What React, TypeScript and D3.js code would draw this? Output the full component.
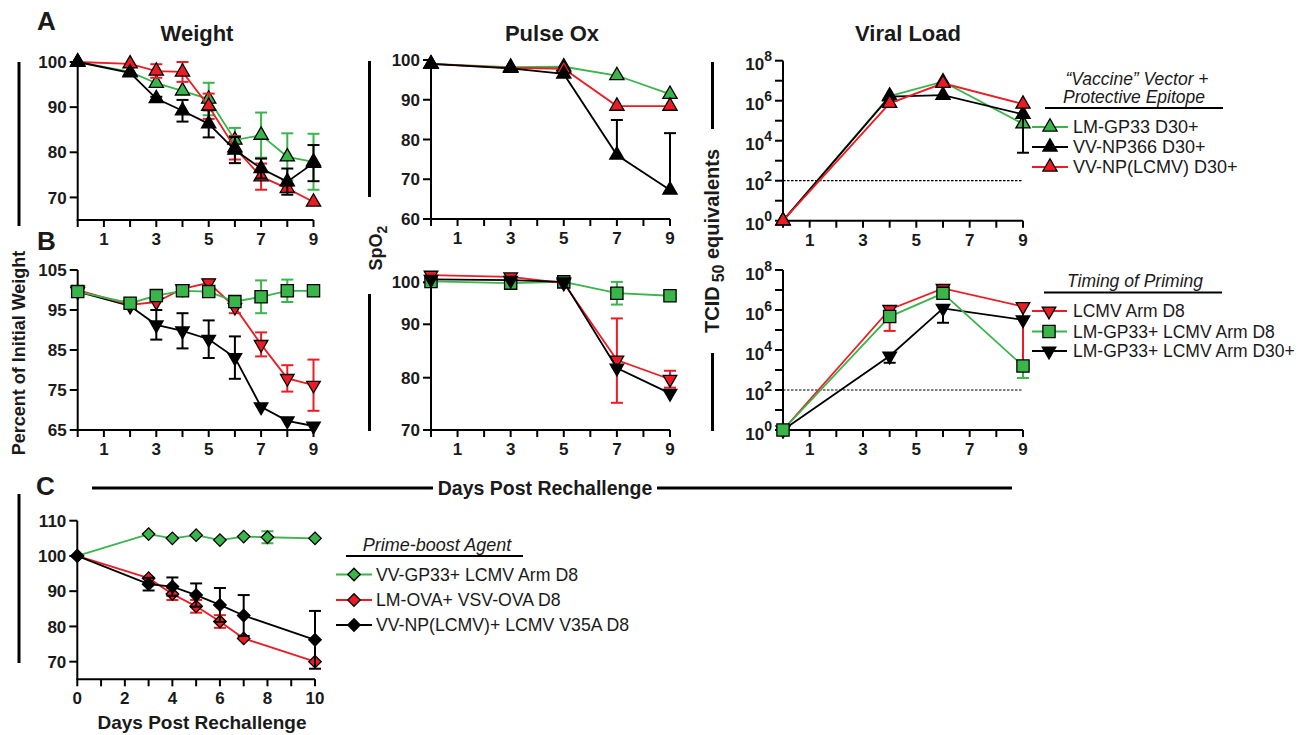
import * as d3 from 'd3';
import type { ReactNode } from 'react';

const FONT = "'Liberation Sans', Arial, Helvetica, sans-serif";
const GREEN = '#39b54a';
const RED = '#ed1c24';
const BLACK = '#000000';

// ---------- A: "vaccine" vector + protective epitope ----------
const daysWeightA = [0, 2, 3, 4, 5, 6, 7, 8, 9];
const weightLmGp33 = [100, 97.8, 95.3, 93.6, 91.8, 82.7, 83.8, 79.0, 77.9];
const weightLmGp33Sem = [0, 0, 0, 0, 3.6, 2.7, 5.0, 5.2, 6.2];
const weightVvNp366 = [100, 97.6, 91.9, 89.2, 86.3, 80.5, 76.4, 73.5, 77.6];
const weightVvNp366Sem = [0, 0, 0.4, 2.4, 3.0, 2.9, 2.2, 2.9, 4.0];
const weightVvNpLcmv = [100, 99.6, 98.0, 97.8, 90.2, 81.0, 74.6, 72.0, 69.0];
const weightVvNpLcmvSem = [0, 0, 1.5, 2.2, 2.8, 2.6, 2.9, 0.5, 0];

const daysPulse = [0, 3, 5, 7, 9];
const pulseLmGp33 = [99, 98.2, 98.3, 96.1, 91.4];
const pulseVvNp366 = [99, 97.9, 96.5, 76.1, 67.3];
const pulseVvNp366Up = [0, 0, 0, 8.8, 14.3];
const pulseVvNpLcmv = [99, 98.0, 97.8, 88.4, 88.4];

const daysViral = [0, 4, 6, 9];
const viralLmGp33 = [1, 1.7e6, 8.9e6, 7e4];
const viralVvNp366 = [1, 1.6e6, 1.9e6, 2.1e5];
const viralVvNp366Lo = [null, null, null, 2.5e3];
const viralVvNpLcmv = [1, 7.4e5, 7.4e6, 6.8e5];
const viralLod = 100;

// ---------- B: timing of priming ----------
const weightLcmvArm = [100, 96.3, 97.0, 100.3, 101.8, 95.7, 86.4, 77.9, 76.2];
const weightLcmvArmSem = [0, 0.8, 0, 0.8, 0.8, 1.5, 3.0, 3.3, 6.4];
const weightGp33Arm = [99.6, 96.7, 98.6, 99.8, 99.6, 97.1, 98.3, 99.8, 99.8];
const weightGp33ArmSem = [0, 0, 0, 0, 0, 0, 4.1, 2.8, 0];
const weightGp33ArmD30 = [99.6, 96.0, 91.3, 89.8, 87.7, 83.1, 70.8, 67.3, 66.0];
const weightGp33ArmD30Sem = [0, 0, 3.7, 4.4, 4.7, 5.3, 0, 0, 0];

const pulseLcmvArm = [101.7, 101.3, 99.8, 83.3, 79.7];
const pulseLcmvArmSem = [0, 0, 0, 8.1, 1.6];
const pulseGp33Arm = [100.2, 99.8, 100.1, 97.4, 96.8];
const pulseGp33ArmSem = [0, 0, 0, 2.7, 0];
const pulseGp33ArmD30 = [100.7, 100.5, 100.1, 81.8, 77.0];

const viralLcmvArm = [1, 1.07e6, 1.2e7, 1.5e6];
const viralLcmvArmLo = [null, 9e4, null, 1e3];
const viralGp33Arm = [1, 4.7e5, 6.8e6, 1.6e3];
const viralGp33ArmLo = [null, null, null, 4e2];
const viralGp33ArmD30 = [1, 5e3, 1.2e6, 3.2e5];
const viralGp33ArmD30Lo = [null, 2.3e3, 2.3e5, null];

// ---------- C: prime-boost agent ----------
const daysC = [0, 3, 4, 5, 6, 7, 8, 10];
const weightVvGp33Boost = [100, 106.2, 105.0, 105.9, 104.5, 105.5, 105.3, 105.0];
const weightVvGp33BoostSem = [0, 0, 0, 0, 0, 0, 1.7, 0];
const weightLmOvaBoost = [100, 93.7, 89.2, 85.7, 81.4, 76.6, null, 70.0];
const weightLmOvaBoostSem = [0, 0, 1.7, 1.8, 1.8, 0, 0, 0];
const weightVvNpBoost = [100, 92.0, 91.3, 88.9, 86.1, 83.1, null, 76.2];
const weightVvNpBoostSem = [0, 1.8, 2.6, 3.3, 4.8, 5.8, 0, 8.2];

type Shape = 'up' | 'down' | 'square' | 'diamond';
type Val = number | null;
interface Series {
  color: string;
  shape: Shape;
  days: number[];
  values: Val[];
  lo: Val[];
  hi: Val[];
}

const withSem = (values: Val[], sem: number[], upOnly = false) => ({
  values,
  lo: values.map((v, i) => (v != null && sem[i] && !upOnly ? v - sem[i] : null)),
  hi: values.map((v, i) => (v != null && sem[i] ? v + sem[i] : null)),
});
const none = (values: Val[]) => ({ values, lo: values.map(() => null), hi: values.map(() => null) });
const lowOnly = (values: Val[], lo: Val[]) => ({ values, lo, hi: lo.map(() => null) });

const mk = (color: string, shape: Shape, days: number[], d: { values: Val[]; lo: Val[]; hi: Val[] }): Series => ({
  color, shape, days, ...d,
});

const seriesWeightA = [
  mk(GREEN, 'up', daysWeightA, withSem(weightLmGp33, weightLmGp33Sem)),
  mk(RED, 'up', daysWeightA, withSem(weightVvNpLcmv, weightVvNpLcmvSem)),
  mk(BLACK, 'up', daysWeightA, withSem(weightVvNp366, weightVvNp366Sem)),
];
const seriesPulseA = [
  mk(GREEN, 'up', daysPulse, none(pulseLmGp33)),
  mk(RED, 'up', daysPulse, none(pulseVvNpLcmv)),
  mk(BLACK, 'up', daysPulse, withSem(pulseVvNp366, pulseVvNp366Up, true)),
];
const seriesViralA = [
  mk(GREEN, 'up', daysViral, none(viralLmGp33)),
  mk(BLACK, 'up', daysViral, lowOnly(viralVvNp366, viralVvNp366Lo)),
  mk(RED, 'up', daysViral, none(viralVvNpLcmv)),
];
const seriesWeightB = [
  mk(BLACK, 'down', daysWeightA, withSem(weightGp33ArmD30, weightGp33ArmD30Sem)),
  mk(RED, 'down', daysWeightA, withSem(weightLcmvArm, weightLcmvArmSem)),
  mk(GREEN, 'square', daysWeightA, withSem(weightGp33Arm, weightGp33ArmSem)),
];
const seriesPulseB = [
  mk(GREEN, 'square', daysPulse, withSem(pulseGp33Arm, pulseGp33ArmSem)),
  mk(RED, 'down', daysPulse, withSem(pulseLcmvArm, pulseLcmvArmSem)),
  mk(BLACK, 'down', daysPulse, none(pulseGp33ArmD30)),
];
const seriesViralB = [
  mk(RED, 'down', daysViral, lowOnly(viralLcmvArm, viralLcmvArmLo)),
  mk(BLACK, 'down', daysViral, lowOnly(viralGp33ArmD30, viralGp33ArmD30Lo)),
  mk(GREEN, 'square', daysViral, lowOnly(viralGp33Arm, viralGp33ArmLo)),
];
const seriesC = [
  mk(GREEN, 'diamond', daysC, withSem(weightVvGp33Boost, weightVvGp33BoostSem)),
  mk(RED, 'diamond', daysC, withSem(weightLmOvaBoost, weightLmOvaBoostSem)),
  mk(BLACK, 'diamond', daysC, withSem(weightVvNpBoost, weightVvNpBoostSem)),
];

const legendA = ['LM-GP33 D30+', 'VV-NP366 D30+', 'VV-NP(LCMV) D30+'];
const legendB = ['LCMV Arm D8', 'LM-GP33+ LCMV Arm D8', 'LM-GP33+ LCMV Arm D30+'];
const legendC = ['VV-GP33+ LCMV Arm D8', 'LM-OVA+ VSV-OVA D8', 'VV-NP(LCMV)+ LCMV V35A D8'];

// ---------- scales ----------
const xWeight = d3.scaleLinear().domain([0, 9]).range([77.7, 313.5]);
const yWeightA = d3.scaleLinear().domain([65, 100]).range([220, 62]);
const xPulse = d3.scaleLinear().domain([0, 9]).range([431, 670]);
const yPulseA = d3.scaleLinear().domain([60, 100]).range([219, 60]);
const xViral = d3.scaleLinear().domain([0, 9]).range([783, 1023]);
const yViralA = d3.scaleLog().domain([1, 1e8]).range([220.7, 60.7]);
const yWeightB = d3.scaleLinear().domain([65, 105]).range([430, 270]);
const yPulseB = d3.scaleLinear().domain([70, 80, 90, 100]).range([430, 377.7, 324.3, 282.3]);
const yViralB = d3.scaleLog().domain([1, 1e8]).range([430, 270]);
const xC = d3.scaleLinear().domain([0, 10]).range([77.3, 315]);
const yC = d3.scaleLinear().domain([65, 110]).range([679.3, 520.7]);

const SIZE: Record<Shape, number> = { up: 88, down: 80, square: 150, diamond: 78 };
const ROT: Record<Shape, number> = { up: 0, down: 180, square: 0, diamond: 45 };

function Marker({ shape, color, x, y }: { shape: Shape; color: string; x: number; y: number }) {
  const type = shape === 'square' || shape === 'diamond' ? d3.symbolSquare : d3.symbolTriangle;
  const d = d3.symbol(type, SIZE[shape])() || '';
  return (
    <path d={d} transform={`translate(${x},${y}) rotate(${ROT[shape]})`}
      fill={color} stroke="#000" strokeWidth={1.3} strokeLinejoin="miter" />
  );
}

function SeriesMarks({ s, x, y }: { s: Series; x: (v: number) => number; y: (v: number) => number }) {
  const pts = s.days.map((d, i) => ({ d, v: s.values[i], lo: s.lo[i], hi: s.hi[i] })).filter(p => p.v != null);
  const line = d3.line<{ d: number; v: Val }>().x(p => x(p.d)).y(p => y(p.v as number));
  return (
    <g>
      <path d={line(pts) || ''} fill="none" stroke={s.color} strokeWidth={1.8} />
      {pts.map((p, i) => {
        if (p.lo == null && p.hi == null) return null;
        const cx = x(p.d);
        const y1 = y(p.lo ?? (p.v as number));
        const y2 = y(p.hi ?? (p.v as number));
        return (
          <g key={i} stroke={s.color} strokeWidth={2}>
            <line x1={cx} x2={cx} y1={y1} y2={y2} />
            {p.lo != null && <line x1={cx - 6} x2={cx + 6} y1={y1} y2={y1} />}
            {p.hi != null && <line x1={cx - 6} x2={cx + 6} y1={y2} y2={y2} />}
          </g>
        );
      })}
      {pts.map((p, i) => (
        <Marker key={i} shape={s.shape} color={s.color} x={x(p.d)} y={y(p.v as number)} />
      ))}
    </g>
  );
}

interface PanelProps {
  x: d3.ScaleLinear<number, number>;
  y: (v: number) => number;
  yTop: number;
  yBottom: number;
  yTicks: number[];
  yLabel: (v: number, px: number, py: number) => ReactNode;
  xLabelOdd: boolean;
  series: Series[];
  lod?: number;
}

function Panel({ x, y, yTop, yBottom, yTicks, yLabel, xLabelOdd, series, lod }: PanelProps) {
  const [d0, d1] = x.domain();
  const x0 = x(d0);
  const base = y(yBottom);
  const xTicks = d3.range(d0, d1 + 1);
  return (
    <g>
      {lod != null && (
        <line x1={x0} x2={x(d1)} y1={y(lod)} y2={y(lod)} stroke="#000" strokeWidth={1.2} strokeDasharray="2.5,1.5" />
      )}
      <g stroke="#000" strokeWidth={2}>
        <line x1={x0} x2={x0} y1={y(yTop)} y2={base} />
        <line x1={x0 - 1} x2={x(d1)} y1={base} y2={base} />
        {yTicks.map(t => <line key={t} x1={x0 - 8} x2={x0} y1={y(t)} y2={y(t)} />)}
        {xTicks.map(t => <line key={t} x1={x(t)} x2={x(t)} y1={base} y2={base + 7} />)}
      </g>
      <g fontWeight="bold" fontSize={17} fill="#1a1a1a">
        {yTicks.map(t => <g key={t}>{yLabel(t, x0 - 11, y(t))}</g>)}
        {xTicks.filter(t => (xLabelOdd ? t % 2 === 1 : t % 2 === 0)).map(t => (
          <text key={t} x={x(t)} y={base + 25} textAnchor="middle">{t}</text>
        ))}
      </g>
      {series.map((s, i) => <SeriesMarks key={i} s={s} x={x} y={y} />)}
    </g>
  );
}

const linLabel = (v: number, px: number, py: number) => (
  <text x={px} y={py} dy="0.36em" textAnchor="end">{v}</text>
);
const logLabel = (v: number, px: number, py: number) => {
  const e = Math.round(Math.log10(v));
  if (e % 2 !== 0) return null;
  return (
    <text x={px} y={py + 9.5} textAnchor="end">
      10<tspan dy={-9} fontSize={14}>{e}</tspan>
    </text>
  );
};

function Legend({ labels, colors, shapes, rowYs, lineX, markerX, textX, fontSize }: {
  labels: string[]; colors: string[]; shapes: Shape[]; rowYs: number[];
  lineX: [number, number]; markerX: number; textX: number; fontSize: number;
}) {
  return (
    <g>
      {labels.map((l, i) => (
        <g key={l}>
          <line x1={lineX[0]} x2={lineX[1]} y1={rowYs[i]} y2={rowYs[i]} stroke={colors[i]} strokeWidth={1.8} />
          <Marker shape={shapes[i]} color={colors[i]} x={markerX} y={rowYs[i]} />
          <text x={textX} y={rowYs[i]} dy="0.36em" fontSize={fontSize} fill="#1a1a1a">{l}</text>
        </g>
      ))}
    </g>
  );
}

const vTicks = d3.range(0, 9).map(e => Math.pow(10, e));

export default function App() {
  return (
    <svg width={1308} height={735} viewBox="0 0 1308 735" fontFamily={FONT}
      style={{ position: 'absolute', left: 0, top: 0, background: '#fff' }}>
      {/* panel letters and titles */}
      <g fontWeight="bold" fill="#1a1a1a">
        <text x={37} y={30} fontSize={26}>A</text>
        <text x={37} y={250} fontSize={26}>B</text>
        <text x={36} y={495} fontSize={26}>C</text>
        <text x={197} y={41} fontSize={22} textAnchor="middle">Weight</text>
        <text x={552} y={41} fontSize={22} textAnchor="middle">Pulse Ox</text>
        <text x={908} y={41} fontSize={22} textAnchor="middle">Viral Load</text>
      </g>

      {/* decorative vertical bars and the shared day rule */}
      <g stroke="#000" strokeWidth={3}>
        <line x1={19} x2={19} y1={62} y2={226} />
        <line x1={369.5} x2={369.5} y1={61} y2={197} />
        <line x1={712.5} x2={712.5} y1={62} y2={129} />
        <line x1={369.5} x2={369.5} y1={294} y2={431} />
        <line x1={712.5} x2={712.5} y1={353} y2={431} />
        <line x1={19} x2={19} y1={494} y2={663} />
        <line x1={92} x2={433} y1={488} y2={488} />
        <line x1={657} x2={1012} y1={488} y2={488} />
      </g>

      {/* shared axis titles */}
      <g fontWeight="bold" fill="#1a1a1a">
        <text x={545} y={495} fontSize={19.5} textAnchor="middle">Days Post Rechallenge</text>
        <text x={202} y={729} fontSize={19} textAnchor="middle">Days Post Rechallenge</text>
        <text transform="translate(25,353) rotate(-90)" fontSize={18} textAnchor="middle">Percent of Initial Weight</text>
        <text transform="translate(382,248) rotate(-90)" fontSize={18} textAnchor="middle">
          SpO<tspan dy={5} fontSize={14}>2</tspan>
        </text>
        <text transform="translate(719,241) rotate(-90)" fontSize={20} textAnchor="middle">
          TCID<tspan dx={4} dy={5} fontSize={16}>50</tspan><tspan dy={-5}> equivalents</tspan>
        </text>
      </g>

      {/* row A */}
      <Panel x={xWeight} y={yWeightA} yTop={100} yBottom={65} yTicks={[70, 80, 90, 100]}
        yLabel={linLabel} xLabelOdd series={seriesWeightA} />
      <Panel x={xPulse} y={yPulseA} yTop={100} yBottom={60} yTicks={[60, 70, 80, 90, 100]}
        yLabel={linLabel} xLabelOdd series={seriesPulseA} />
      <Panel x={xViral} y={yViralA} yTop={1e8} yBottom={1} yTicks={vTicks}
        yLabel={logLabel} xLabelOdd series={seriesViralA} lod={viralLod} />

      {/* row B */}
      <Panel x={xWeight} y={yWeightB} yTop={105} yBottom={65} yTicks={[65, 75, 85, 95, 105]}
        yLabel={linLabel} xLabelOdd series={seriesWeightB} />
      <Panel x={xPulse} y={yPulseB} yTop={100} yBottom={70} yTicks={[70, 80, 90, 100]}
        yLabel={linLabel} xLabelOdd series={seriesPulseB} />
      <Panel x={xViral} y={yViralB} yTop={1e8} yBottom={1} yTicks={vTicks}
        yLabel={logLabel} xLabelOdd series={seriesViralB} lod={viralLod} />

      {/* row C */}
      <Panel x={xC} y={yC} yTop={110} yBottom={65} yTicks={[70, 80, 90, 100, 110]}
        yLabel={linLabel} xLabelOdd={false} series={seriesC} />

      {/* legends */}
      <g fontStyle="italic" fontSize={17.5} fill="#1a1a1a" textAnchor="middle">
        <text x={1137} y={85}>“Vaccine” Vector +</text>
        <text x={1134} y={103}>Protective Epitope</text>
        <text x={1135} y={287}>Timing of Priming</text>
        <text x={437} y={551} fontSize={18}>Prime-boost Agent</text>
      </g>
      <g stroke="#000" strokeWidth={2}>
        <line x1={1045} x2={1223} y1={108} y2={108} />
        <line x1={1044} x2={1222} y1={292.5} y2={292.5} />
        <line x1={346} x2={523} y1={556} y2={556} />
      </g>
      <Legend labels={legendA} colors={[GREEN, BLACK, RED]} shapes={['up', 'up', 'up']}
        rowYs={[127, 147, 167]} lineX={[1032, 1068]} markerX={1050} textX={1073} fontSize={18} />
      <Legend labels={legendB} colors={[RED, GREEN, BLACK]} shapes={['down', 'square', 'down']}
        rowYs={[311, 331.5, 351]} lineX={[1032, 1067]} markerX={1049} textX={1073} fontSize={17.5} />
      <Legend labels={legendC} colors={[GREEN, RED, BLACK]} shapes={['diamond', 'diamond', 'diamond']}
        rowYs={[574.5, 600, 625]} lineX={[336, 372]} markerX={354} textX={376} fontSize={17.7} />
    </svg>
  );
}
